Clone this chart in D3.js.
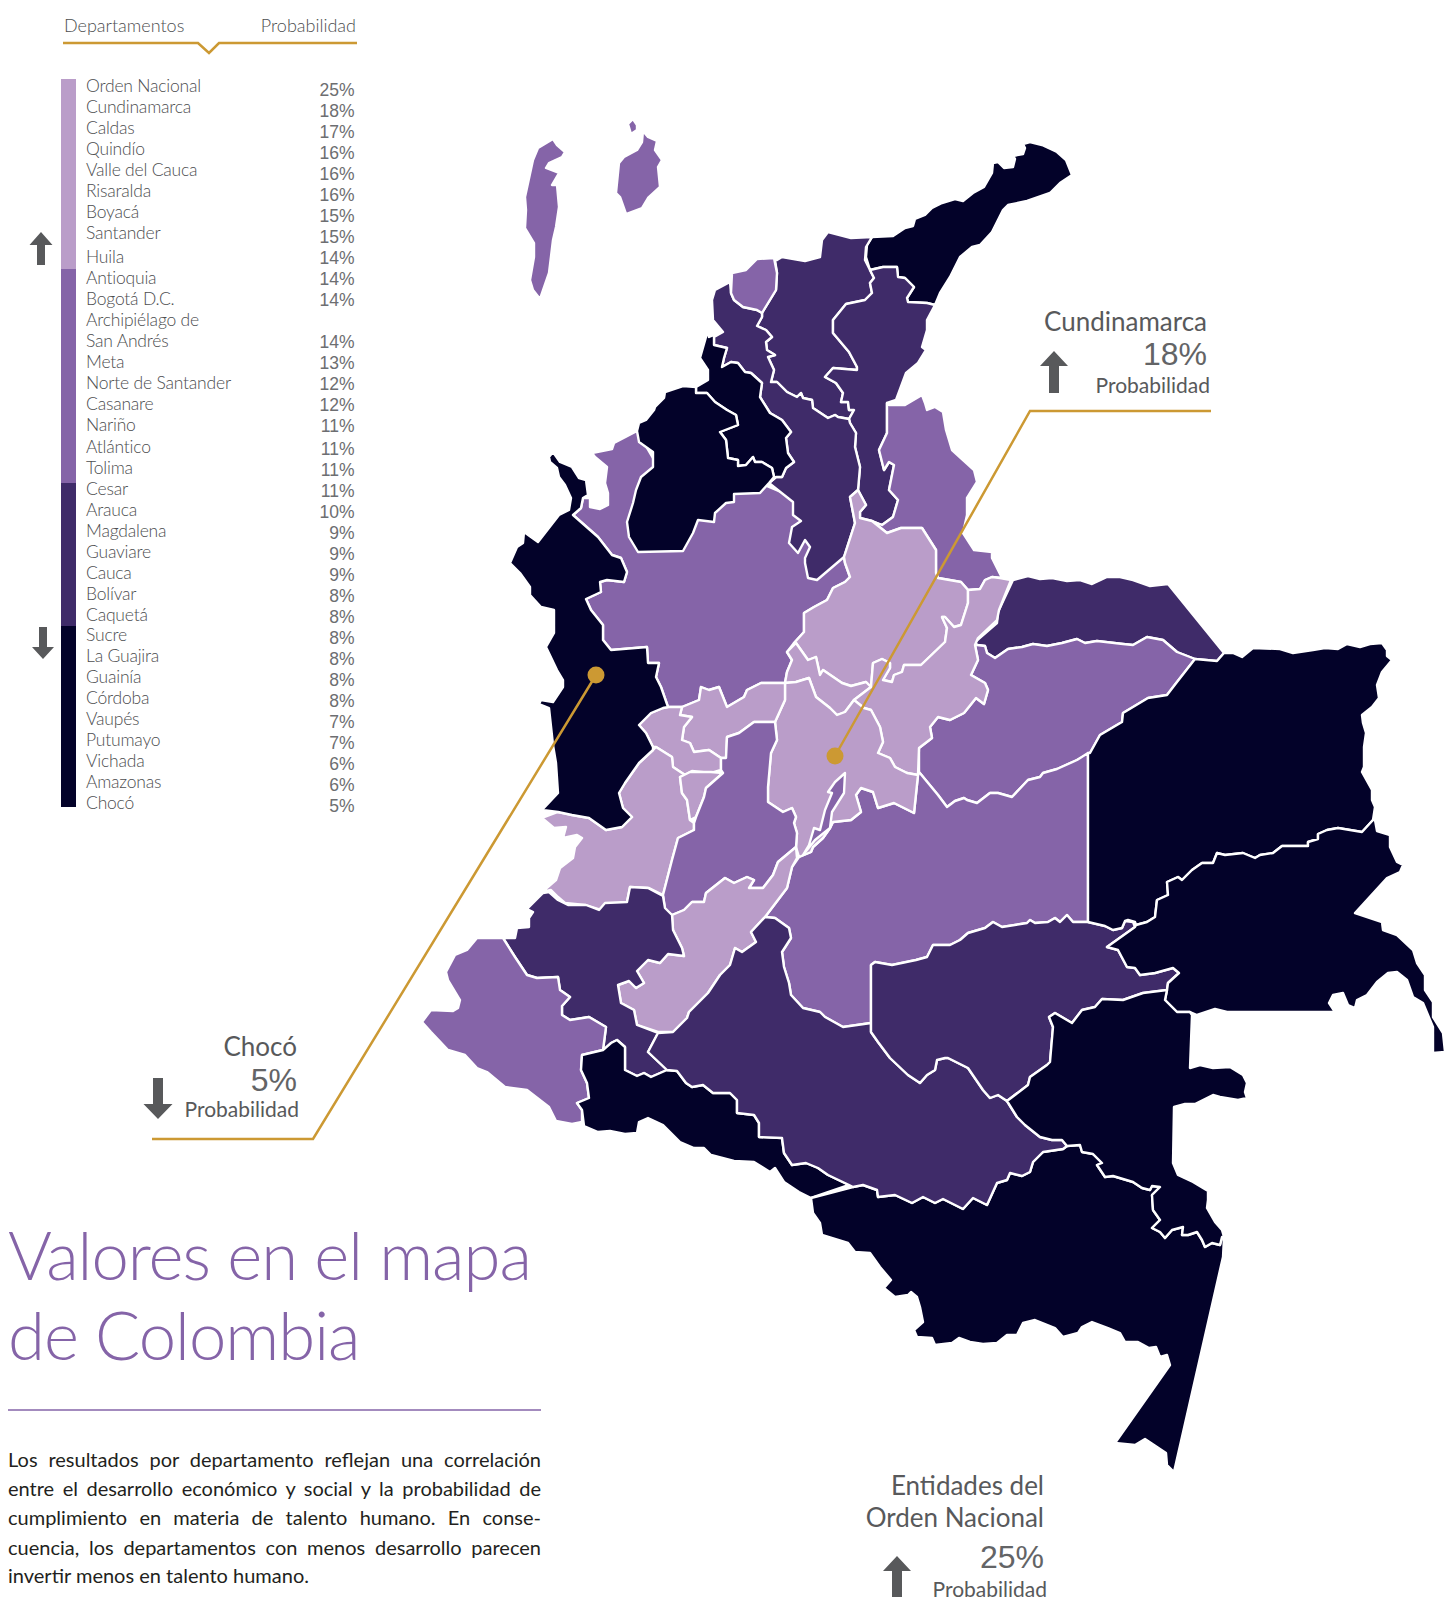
<!DOCTYPE html>
<html>
<head>
<meta charset="utf-8">
<script src="https://cdn.jsdelivr.net/npm/d3@7"></script>
<style>
  body { margin: 0; background: #fff; }
  svg { display: block; }
  text { font-family: Lato, sans-serif; font-weight: 300; fill: #4d4e50; }
  .num { font-family: "Liberation Sans", sans-serif; font-weight: 400; }
</style>
</head>
<body>
<svg width="1445" height="1602"></svg>
<script>
// Table
const departamentos = ["Orden Nacional", "Cundinamarca", "Caldas", "Quindío", "Valle del Cauca", "Risaralda", "Boyacá", "Santander", "Huila", "Antioquia", "Bogotá D.C.", "Archipiélago de", "San Andrés", "Meta", "Norte de Santander", "Casanare", "Nariño", "Atlántico", "Tolima", "Cesar", "Arauca", "Magdalena", "Guaviare", "Cauca", "Bolívar", "Caquetá", "Sucre", "La Guajira", "Guainía", "Córdoba", "Vaupés", "Putumayo", "Vichada", "Amazonas", "Chocó"];
const probabilidad = [25, 18, 17, 16, 16, 16, 15, 15, 14, 14, 14, null, 14, 13, 12, 12, 11, 11, 11, 11, 10, 9, 9, 9, 8, 8, 8, 8, 8, 8, 7, 7, 6, 6, 5];
const colores = ["#ba9dc9", "#8564a8", "#3f2b69", "#030229"];
const parrafo = [
  "Los resultados por departamento reflejan una correlación",
  "entre el desarrollo económico y social y la probabilidad de",
  "cumplimiento en materia de talento humano. En conse-",
  "cuencia, los departamentos con menos desarrollo parecen",
  "invertir menos en talento humano."
];

// Map outlines
const sanAndres = [[553,139],[557,145],[565,152],[562,157],[549,163],[546,168],[559,173],[552,185],[557,185],[559,207],[556,227],[553,240],[549,273],[540,299],[533,290],[530,280],[534,257],[534,243],[525,228],[526,210],[525,197],[533,160],[538,148]];
const providencia = [[643,131],[648,137],[657,141],[655,150],[662,160],[658,167],[660,187],[648,198],[642,208],[626,214],[620,197],[616,193],[619,163],[624,157],[637,150],[642,142]];
const santaCatalina = [[633,119],[637,125],[637,130],[631,134],[628,124]];
const guajira = [[872,237],[893,236],[905,228],[913,226],[915,219],[925,215],[932,208],[942,203],[955,199],[963,201],[973,193],[984,187],[992,173],[993,163],[998,162],[1004,168],[1013,167],[1015,159],[1013,156],[1023,154],[1025,148],[1023,144],[1030,142],[1042,145],[1057,152],[1066,160],[1072,175],[1060,183],[1050,193],[1027,201],[1008,205],[1003,210],[992,232],[980,245],[972,247],[960,257],[950,277],[940,293],[935,305],[927,303],[908,302],[907,298],[914,287],[905,278],[898,277],[897,267],[883,267],[870,270],[866,257],[867,245]];
const magdalena = [[775,260],[777,260],[782,257],[805,261],[820,257],[822,240],[828,232],[851,238],[872,237],[866,247],[865,260],[870,270],[874,278],[870,283],[872,293],[865,300],[846,304],[833,320],[833,333],[849,352],[857,367],[857,370],[833,368],[825,377],[836,383],[843,393],[841,402],[848,402],[849,410],[854,410],[849,419],[838,417],[835,415],[828,418],[813,408],[812,400],[803,398],[801,393],[797,397],[787,392],[777,382],[771,382],[774,370],[768,357],[775,355],[767,350],[766,342],[772,337],[766,330],[757,326],[762,317],[762,313],[776,290],[777,273]];
const cesar = [[870,270],[883,267],[897,267],[898,277],[905,278],[914,287],[907,298],[908,302],[927,303],[935,305],[927,320],[927,330],[922,347],[926,350],[918,363],[906,373],[896,400],[887,403],[887,433],[879,450],[884,470],[889,462],[894,465],[889,490],[898,500],[893,517],[882,525],[872,521],[860,518],[860,512],[866,505],[858,490],[860,467],[855,447],[856,433],[850,423],[849,419],[854,410],[849,410],[848,402],[841,402],[843,393],[836,383],[825,377],[833,368],[857,370],[857,367],[849,352],[833,333],[833,320],[846,304],[865,300],[872,293],[870,283],[874,278]];
const antioquia = [[637,431],[614,443],[612,449],[592,453],[595,457],[607,467],[605,483],[608,493],[608,505],[600,509],[590,507],[590,498],[583,498],[581,508],[573,515],[598,537],[612,555],[621,558],[627,572],[624,582],[607,580],[600,582],[601,592],[586,599],[591,610],[603,625],[603,640],[611,650],[647,647],[648,663],[659,663],[656,677],[661,687],[668,707],[682,707],[699,700],[701,687],[709,690],[719,687],[727,707],[744,697],[747,690],[761,683],[785,683],[787,672],[792,660],[787,652],[794,643],[804,632],[804,613],[814,607],[827,600],[833,588],[845,582],[850,577],[845,563],[844,557],[830,550],[800,500],[760,483],[700,500],[660,470]];
const bolivar = [[712,300],[715,290],[730,282],[731,293],[734,300],[743,307],[757,310],[762,313],[762,317],[757,326],[766,330],[772,337],[766,342],[767,350],[775,355],[768,357],[774,370],[771,382],[777,382],[787,392],[797,397],[801,393],[803,398],[812,400],[813,408],[828,418],[835,415],[838,417],[849,419],[850,423],[856,433],[855,447],[860,467],[858,490],[850,497],[855,523],[844,557],[817,580],[808,578],[805,563],[805,558],[810,547],[805,540],[798,553],[789,543],[792,527],[801,521],[793,515],[793,502],[769,483],[776,477],[782,477],[786,468],[794,462],[788,453],[786,438],[791,432],[782,420],[770,413],[760,397],[762,383],[751,373],[745,372],[738,363],[731,362],[722,367],[724,358],[727,348],[714,345],[714,337],[723,332],[713,320]];
const sucre = [[708,330],[709,337],[714,335],[714,345],[727,348],[724,358],[722,367],[731,362],[738,363],[745,372],[751,373],[762,383],[760,397],[770,413],[782,420],[791,432],[786,438],[788,453],[794,462],[786,468],[782,477],[776,477],[769,483],[774,477],[772,468],[762,462],[755,462],[753,457],[746,465],[738,466],[738,460],[728,458],[726,440],[720,432],[738,425],[736,415],[727,410],[715,402],[707,393],[696,393],[696,387],[708,380],[708,370],[700,358]];
const cordoba = [[696,387],[683,386],[665,392],[664,398],[655,407],[654,410],[646,420],[639,423],[637,431],[639,442],[653,452],[653,467],[641,477],[636,490],[633,503],[627,522],[629,537],[638,552],[683,551],[693,533],[698,520],[714,522],[715,513],[726,503],[734,502],[734,494],[760,493],[769,483],[774,477],[772,468],[762,462],[755,462],[753,457],[746,465],[738,466],[738,460],[728,458],[726,440],[720,432],[738,425],[736,415],[727,410],[715,402],[707,393],[696,393]];
const atlantico = [[732,273],[746,270],[757,259],[774,258],[777,273],[776,290],[762,313],[757,310],[743,307],[734,300],[731,293]];
const norteSantander = [[889,405],[905,405],[922,395],[925,403],[927,410],[935,407],[943,412],[946,430],[952,450],[974,470],[977,482],[967,498],[967,515],[963,533],[974,550],[992,552],[992,558],[1002,578],[992,577],[985,580],[980,589],[968,590],[961,582],[938,578],[936,573],[936,550],[922,528],[901,528],[887,533],[872,521],[882,525],[893,517],[898,500],[889,490],[894,465],[889,462],[884,470],[879,450],[887,433],[887,403]];
const santander = [[858,490],[866,505],[860,512],[860,518],[872,521],[887,533],[901,528],[922,528],[936,550],[936,573],[938,578],[961,582],[968,590],[968,603],[961,625],[954,627],[945,617],[942,617],[947,628],[945,642],[921,665],[904,665],[902,672],[894,675],[892,682],[883,680],[890,668],[890,663],[882,659],[873,663],[871,687],[866,682],[851,686],[842,683],[823,670],[820,675],[816,657],[808,660],[796,643],[794,643],[804,632],[804,613],[814,607],[827,600],[833,588],[845,582],[850,577],[845,563],[844,557],[855,523],[850,497]];
const boyacaNorte = [[785,683],[796,682],[809,678],[816,697],[830,708],[837,715],[845,712],[854,700],[871,687],[866,682],[851,686],[842,683],[823,670],[820,675],[816,657],[808,660],[796,643],[787,652],[792,660],[787,672]];
const boyaca = [[1011,580],[1000,578],[992,577],[985,580],[980,589],[968,590],[968,603],[961,625],[954,627],[945,617],[942,617],[947,628],[945,642],[921,665],[904,665],[902,672],[894,675],[892,682],[883,680],[890,668],[890,663],[882,659],[873,663],[871,687],[854,700],[864,708],[871,710],[880,727],[883,742],[878,753],[890,758],[895,767],[907,773],[918,775],[919,748],[932,738],[930,727],[938,717],[950,720],[964,713],[976,698],[984,704],[988,690],[985,683],[971,675],[978,660],[975,645],[978,638],[997,620],[999,610]];
const arauca = [[1013,580],[1028,576],[1040,579],[1052,578],[1067,581],[1080,580],[1092,584],[1107,577],[1120,577],[1133,580],[1150,586],[1168,584],[1224,653],[1217,661],[1195,659],[1177,652],[1163,640],[1147,637],[1133,645],[1123,644],[1097,641],[1085,643],[1077,639],[1062,643],[1047,646],[1033,644],[1022,647],[1008,649],[995,658],[987,653],[985,646],[977,645],[975,642],[997,623],[998,612]];
const casanare = [[977,645],[985,646],[987,653],[995,658],[1008,649],[1022,647],[1033,644],[1047,646],[1062,643],[1077,639],[1085,643],[1097,641],[1123,644],[1133,645],[1147,637],[1163,640],[1177,652],[1195,659],[1177,682],[1167,695],[1148,698],[1123,713],[1122,722],[1100,735],[1090,753],[1077,760],[1057,769],[1043,773],[1040,777],[1028,780],[1012,797],[998,793],[990,793],[977,803],[967,800],[964,798],[955,801],[947,807],[938,795],[919,772],[919,748],[932,738],[930,727],[938,717],[950,720],[964,713],[976,698],[984,704],[988,690],[985,683],[971,675],[978,660],[975,645]];
const meta = [[918,775],[914,813],[894,803],[878,808],[873,792],[861,788],[856,795],[861,812],[851,820],[833,822],[830,828],[823,838],[813,847],[811,852],[799,857],[792,867],[787,888],[765,917],[775,918],[789,928],[791,938],[782,952],[784,967],[789,983],[791,995],[803,1008],[820,1012],[825,1017],[843,1027],[871,1023],[871,965],[875,962],[892,965],[916,960],[927,957],[933,945],[950,945],[960,940],[968,933],[985,928],[993,922],[1002,927],[1027,923],[1030,920],[1035,923],[1048,922],[1055,918],[1060,922],[1067,915],[1073,922],[1088,922],[1088,753],[1077,760],[1057,769],[1043,773],[1040,777],[1028,780],[1012,797],[998,793],[990,793],[977,803],[967,800],[964,798],[955,801],[947,807],[938,795],[919,772]];
const cundinamarca = [[785,683],[796,682],[809,678],[816,697],[830,708],[837,715],[845,712],[854,700],[864,708],[871,710],[880,727],[883,742],[878,753],[890,758],[895,767],[907,773],[918,775],[914,813],[894,803],[878,808],[873,792],[861,788],[856,795],[861,812],[851,820],[833,822],[830,828],[823,838],[813,847],[811,852],[799,857],[796,847],[797,833],[794,823],[796,817],[792,808],[783,812],[768,802],[768,787],[771,753],[777,740],[775,722],[785,700]];
const bogota = [[845,773],[835,782],[828,792],[832,793],[825,810],[820,830],[814,828],[809,845],[803,855],[815,840],[830,828],[832,812],[844,793]];
const caldas = [[682,707],[680,715],[692,717],[684,727],[682,740],[690,743],[694,752],[709,750],[721,758],[726,758],[727,737],[739,733],[754,722],[775,722],[785,700],[785,683],[761,683],[747,690],[744,697],[727,707],[719,687],[709,690],[701,687],[699,700]];
const risaralda = [[668,707],[682,707],[680,715],[692,717],[684,727],[682,740],[690,743],[694,752],[709,750],[721,758],[721,770],[711,773],[692,771],[685,775],[673,767],[672,757],[656,747],[653,747],[646,733],[639,725],[651,713],[663,708]];
const valle = [[656,747],[672,757],[673,767],[685,775],[680,777],[682,793],[687,800],[690,820],[694,823],[694,830],[678,838],[672,860],[663,895],[649,888],[630,887],[627,902],[606,905],[601,910],[585,905],[565,903],[558,897],[551,890],[542,892],[556,880],[560,868],[573,858],[575,847],[582,838],[577,835],[563,838],[566,827],[554,828],[542,818],[558,812],[572,815],[589,818],[606,830],[622,827],[632,817],[623,808],[619,793],[625,783],[639,763],[653,750]];
const quindio = [[680,777],[690,772],[711,772],[723,773],[706,788],[704,797],[696,817],[690,820],[687,800],[682,793]];
const tolima = [[727,737],[739,733],[754,722],[775,722],[777,740],[771,753],[768,787],[768,802],[783,812],[792,808],[796,817],[794,823],[797,833],[796,847],[778,862],[773,875],[763,888],[749,888],[754,880],[747,877],[734,883],[725,878],[706,893],[704,902],[692,902],[684,910],[672,915],[665,910],[663,895],[672,860],[678,838],[694,830],[694,823],[696,817],[704,797],[706,788],[723,773],[721,770],[721,758],[726,758]];
const huila = [[796,847],[797,858],[792,867],[787,888],[765,917],[751,932],[756,942],[742,952],[735,948],[730,965],[720,975],[708,993],[689,1012],[687,1018],[673,1032],[658,1032],[637,1025],[634,1010],[621,1003],[618,985],[629,981],[636,988],[644,983],[637,971],[648,960],[660,963],[668,954],[684,956],[682,948],[673,930],[672,915],[684,910],[692,902],[704,902],[706,893],[725,878],[734,883],[747,877],[754,880],[749,888],[763,888],[773,875],[778,862]];
const cauca = [[543,893],[549,892],[558,900],[568,905],[586,905],[599,910],[605,903],[627,902],[630,887],[648,888],[663,896],[665,908],[672,915],[673,930],[682,948],[684,956],[668,954],[660,963],[648,960],[637,971],[644,983],[636,988],[629,981],[618,985],[621,1003],[634,1010],[637,1025],[658,1033],[648,1052],[667,1070],[651,1077],[644,1073],[637,1076],[625,1070],[625,1047],[617,1040],[611,1043],[610,1050],[603,1050],[606,1027],[589,1017],[570,1020],[562,1015],[562,1006],[570,997],[560,990],[558,977],[537,978],[527,975],[515,957],[503,938],[515,938],[517,928],[529,927],[529,918],[533,912],[527,909]];
const narino = [[503,938],[515,957],[527,975],[537,978],[558,977],[560,990],[570,997],[562,1006],[562,1015],[570,1020],[589,1017],[606,1027],[603,1050],[582,1055],[581,1070],[587,1083],[589,1098],[577,1103],[582,1110],[582,1122],[572,1124],[556,1121],[549,1107],[527,1090],[505,1087],[487,1072],[477,1068],[465,1055],[448,1050],[431,1032],[422,1022],[431,1010],[453,1011],[458,1008],[460,1000],[448,980],[446,972],[455,955],[467,950],[477,938],[489,938]];
const putumayo = [[582,1055],[603,1050],[611,1043],[617,1040],[625,1047],[625,1070],[637,1076],[644,1073],[651,1077],[667,1070],[677,1071],[686,1083],[692,1087],[703,1085],[713,1093],[730,1093],[737,1100],[737,1113],[754,1115],[759,1123],[759,1137],[782,1138],[784,1153],[792,1165],[806,1163],[818,1168],[828,1175],[849,1185],[811,1198],[799,1192],[784,1182],[775,1168],[770,1172],[754,1162],[734,1161],[711,1155],[704,1148],[694,1148],[680,1142],[663,1125],[648,1118],[639,1122],[637,1133],[625,1134],[610,1131],[598,1132],[584,1126],[582,1110],[577,1103],[589,1098],[587,1083],[581,1070]];
const amazonas = [[811,1198],[853,1187],[863,1185],[877,1190],[878,1197],[895,1195],[912,1203],[923,1197],[935,1203],[943,1199],[963,1209],[973,1198],[987,1205],[997,1183],[1007,1180],[1010,1173],[1022,1176],[1030,1172],[1033,1162],[1043,1152],[1063,1149],[1067,1146],[1080,1145],[1082,1152],[1093,1154],[1102,1163],[1097,1165],[1105,1177],[1113,1176],[1133,1182],[1142,1188],[1150,1190],[1152,1186],[1160,1187],[1152,1195],[1153,1210],[1160,1220],[1152,1228],[1160,1232],[1165,1238],[1172,1230],[1183,1227],[1182,1235],[1188,1235],[1197,1232],[1202,1240],[1205,1247],[1212,1243],[1220,1245],[1222,1237],[1224,1237],[1223,1257],[1174,1472],[1167,1465],[1166,1453],[1145,1439],[1135,1445],[1115,1443],[1170,1365],[1167,1355],[1160,1357],[1156,1347],[1149,1348],[1138,1342],[1125,1342],[1120,1333],[1108,1328],[1092,1322],[1082,1327],[1078,1333],[1063,1337],[1055,1328],[1035,1320],[1023,1323],[1017,1335],[1007,1335],[997,1343],[983,1344],[970,1342],[959,1338],[952,1343],[935,1345],[932,1338],[917,1337],[914,1330],[923,1322],[920,1307],[917,1297],[911,1292],[908,1295],[895,1297],[884,1288],[891,1280],[880,1267],[870,1253],[855,1252],[848,1243],[822,1235],[820,1223],[813,1213]];
const caqueta = [[765,917],[775,918],[789,928],[791,938],[782,952],[784,967],[789,983],[791,995],[803,1008],[820,1012],[825,1017],[843,1027],[871,1023],[871,1032],[878,1042],[890,1058],[908,1075],[920,1083],[927,1075],[935,1070],[937,1060],[945,1058],[948,1058],[968,1068],[983,1090],[990,1098],[998,1095],[1007,1101],[1017,1117],[1025,1125],[1040,1137],[1052,1140],[1062,1140],[1067,1146],[1063,1149],[1043,1152],[1033,1162],[1030,1172],[1022,1176],[1010,1173],[1007,1180],[997,1183],[987,1205],[973,1198],[963,1209],[943,1199],[935,1203],[923,1197],[912,1203],[895,1195],[878,1197],[877,1190],[863,1185],[853,1187],[849,1185],[828,1175],[818,1168],[806,1163],[792,1165],[784,1153],[782,1138],[759,1137],[759,1123],[754,1115],[737,1113],[737,1100],[730,1093],[713,1093],[703,1085],[692,1087],[686,1083],[677,1071],[667,1070],[648,1052],[658,1033],[673,1032],[687,1018],[689,1012],[708,993],[720,975],[730,965],[735,948],[742,952],[756,942],[751,932]];
const guaviare = [[871,965],[875,962],[892,965],[916,960],[927,957],[933,945],[950,945],[960,940],[968,933],[985,928],[993,922],[1002,927],[1027,923],[1030,920],[1035,923],[1048,922],[1055,918],[1060,922],[1067,915],[1073,922],[1088,922],[1105,926],[1113,930],[1122,928],[1125,921],[1133,922],[1135,927],[1107,947],[1118,950],[1127,967],[1135,968],[1140,975],[1155,973],[1173,968],[1179,973],[1168,983],[1167,990],[1143,993],[1123,1000],[1102,999],[1095,1007],[1082,1010],[1072,1023],[1055,1013],[1049,1017],[1053,1027],[1050,1062],[1047,1065],[1030,1077],[1028,1085],[1007,1101],[998,1095],[990,1098],[983,1090],[968,1068],[948,1058],[945,1058],[937,1060],[935,1070],[927,1075],[920,1083],[908,1075],[890,1058],[878,1042],[871,1032]];
const vichada = [[1195,659],[1217,661],[1224,653],[1233,653],[1242,657],[1253,648],[1280,649],[1293,653],[1313,650],[1325,648],[1338,649],[1347,644],[1360,647],[1370,644],[1382,643],[1387,650],[1387,656],[1392,660],[1382,672],[1377,685],[1379,698],[1372,707],[1362,715],[1363,723],[1366,733],[1364,747],[1364,767],[1362,772],[1372,790],[1372,800],[1375,807],[1373,820],[1362,832],[1338,828],[1327,830],[1318,834],[1318,839],[1308,842],[1308,846],[1282,846],[1273,853],[1260,855],[1255,858],[1243,853],[1225,855],[1217,853],[1213,863],[1202,863],[1192,870],[1182,880],[1178,877],[1167,882],[1168,895],[1157,900],[1155,917],[1147,922],[1136,925],[1135,922],[1128,920],[1125,921],[1122,928],[1113,930],[1105,926],[1088,922],[1088,753],[1090,753],[1100,735],[1122,722],[1123,713],[1148,698],[1167,695],[1177,682]];
const guainia = [[1375,820],[1377,831],[1390,835],[1390,847],[1397,862],[1403,865],[1400,872],[1387,878],[1355,913],[1382,922],[1383,930],[1397,935],[1413,950],[1417,963],[1425,975],[1425,990],[1433,1002],[1433,1017],[1443,1033],[1445,1052],[1433,1053],[1433,1027],[1423,1003],[1413,997],[1407,980],[1397,972],[1388,973],[1377,982],[1367,995],[1357,1000],[1355,1008],[1348,1005],[1343,993],[1333,995],[1329,1003],[1335,1012],[1227,1012],[1215,1009],[1197,1015],[1190,1012],[1177,1012],[1165,1000],[1167,990],[1168,983],[1179,973],[1173,968],[1155,973],[1140,975],[1135,968],[1127,967],[1118,950],[1107,947],[1135,927],[1136,925],[1147,922],[1155,917],[1157,900],[1168,895],[1167,882],[1178,877],[1182,880],[1192,870],[1202,863],[1213,863],[1217,853],[1225,855],[1243,853],[1255,858],[1260,855],[1273,853],[1282,846],[1308,846],[1308,842],[1318,839],[1318,834],[1327,830],[1338,828],[1362,832],[1373,820]];
const vaupes = [[1053,1027],[1049,1017],[1055,1013],[1072,1023],[1082,1010],[1095,1007],[1102,999],[1123,1000],[1143,993],[1167,990],[1165,1000],[1177,1012],[1190,1012],[1192,1015],[1190,1068],[1200,1065],[1213,1068],[1230,1067],[1243,1075],[1247,1083],[1245,1092],[1247,1098],[1238,1100],[1220,1097],[1213,1095],[1195,1104],[1185,1104],[1174,1107],[1173,1163],[1178,1175],[1193,1182],[1208,1191],[1208,1200],[1207,1208],[1215,1222],[1222,1230],[1224,1237],[1222,1237],[1220,1245],[1212,1243],[1205,1247],[1202,1240],[1197,1232],[1188,1235],[1182,1235],[1183,1227],[1172,1230],[1165,1238],[1160,1232],[1152,1228],[1160,1220],[1153,1210],[1152,1195],[1160,1187],[1152,1186],[1150,1190],[1142,1188],[1133,1182],[1113,1176],[1105,1177],[1097,1165],[1102,1163],[1093,1154],[1082,1152],[1080,1145],[1067,1146],[1062,1140],[1052,1140],[1040,1137],[1025,1125],[1017,1117],[1007,1101],[1028,1085],[1030,1077],[1047,1065],[1050,1062]];
const choco = [[553,452],[560,462],[572,467],[579,478],[586,480],[588,495],[583,498],[581,508],[573,515],[598,537],[612,555],[621,558],[627,572],[624,582],[607,580],[600,582],[601,592],[586,599],[591,610],[603,625],[603,640],[611,650],[647,647],[648,663],[659,663],[656,677],[661,687],[668,707],[663,708],[651,713],[639,725],[646,733],[653,747],[653,750],[639,763],[625,783],[619,793],[623,808],[632,817],[622,827],[606,830],[589,818],[572,815],[558,812],[542,810],[558,793],[556,763],[553,745],[549,708],[539,704],[541,700],[553,702],[563,687],[563,680],[557,670],[546,647],[554,633],[554,610],[541,607],[530,595],[530,587],[520,573],[510,563],[517,547],[523,543],[524,532],[538,542],[559,515],[569,510],[571,498],[565,485],[559,477],[557,468],[550,462],[549,457]];

// Drawing order matters: later shapes sit on top of earlier ones
const mapa = [
  [sanAndres, 1], [providencia, 1], [santaCatalina, 1], [antioquia, 1], [guajira, 3], [magdalena, 2], [cesar, 2],
  [bolivar, 2], [sucre, 3], [cordoba, 3], [atlantico, 1], [norteSantander, 1], [santander, 0], [boyacaNorte, 0],
  [arauca, 2], [casanare, 1], [meta, 1], [boyaca, 0], [cundinamarca, 0], [bogota, 1], [caldas, 0], [risaralda, 0],
  [valle, 0], [quindio, 0], [tolima, 1], [huila, 0], [cauca, 2], [narino, 1], [putumayo, 3], [amazonas, 3],
  [caqueta, 2], [guaviare, 2], [vichada, 3], [guainia, 3], [vaupes, 3], [choco, 3]
];

const svg = d3.select("svg");
const gold = "#cc9933";
const gray = "#58595b";

const path = d3.geoPath(d3.geoIdentity());
svg.append("g")
  .selectAll("path")
  .data(mapa)
  .enter()
  .append("path")
  .attr("d", (d) => path({ type: "Polygon", coordinates: [[...d[0], d[0][0]]] }))
  .attr("fill", (d) => colores[d[1]])
  .attr("stroke", "#fff")
  .attr("stroke-width", 2.4)
  .attr("stroke-linejoin", "round");

// Header
const line = d3.line();
svg.append("text").attr("x", 64).attr("y", 32).attr("font-size", 18).text("Departamentos");
svg.append("text").attr("x", 356).attr("y", 32).attr("font-size", 18).attr("text-anchor", "end").text("Probabilidad");
svg.append("path")
  .attr("d", line([[63, 43], [198, 43], [209, 53], [219, 43], [357, 43]]))
  .attr("fill", "none").attr("stroke", gold).attr("stroke-width", 2.5);

// Table rows
const labelY = (i) => 92 + 21 * i + (i >= 26 ? 3 : i >= 17 ? 4 : i >= 8 ? 3 : 0);
const valueY = (i) => 95.5 + 21 * i + (i >= 17 ? 2 : 0);

const barY = [79, 269, 483, 626, 807];
svg.append("g").selectAll("rect")
  .data(colores)
  .enter()
  .append("rect")
  .attr("x", 61).attr("width", 15)
  .attr("y", (d, i) => barY[i])
  .attr("height", (d, i) => barY[i + 1] - barY[i])
  .attr("fill", (d) => d);

svg.append("g").selectAll("text")
  .data(departamentos)
  .enter()
  .append("text")
  .attr("x", 86)
  .attr("y", (d, i) => labelY(i))
  .attr("font-size", 17.5)
  .attr("letter-spacing", -0.2)
  .text((d) => d);

svg.append("g").selectAll("text")
  .data(probabilidad)
  .enter()
  .append("text")
  .attr("class", "num")
  .attr("x", 354.5)
  .attr("y", (d, i) => valueY(i))
  .attr("font-size", 17.5)
  .attr("text-anchor", "end")
  .style("fill", "#6d6e71")
  .text((d) => (d === null ? "" : d + "%"));

// Arrows
function arrow(tipX, tipY, dir, headW, headH, shaftW, len) {
  svg.append("path")
    .attr("d", line([
      [tipX, tipY],
      [tipX + headW / 2, tipY + dir * headH],
      [tipX + shaftW / 2, tipY + dir * headH],
      [tipX + shaftW / 2, tipY + dir * len],
      [tipX - shaftW / 2, tipY + dir * len],
      [tipX - shaftW / 2, tipY + dir * headH],
      [tipX - headW / 2, tipY + dir * headH]
    ]) + "Z")
    .attr("fill", gray);
}
arrow(41, 232, 1, 23, 13, 8, 33);
arrow(43, 659, -1, 22, 12, 8, 32);
arrow(1054, 351, 1, 28, 15, 10, 42);
arrow(158, 1119, -1, 29, 15, 10, 41);
arrow(897, 1556, 1, 28, 15, 10, 41);

// Callouts
function callout(rightX, lines) {
  lines.forEach((l) => {
    svg.append("text")
      .attr("class", l.num ? "num" : null)
      .attr("x", rightX + (l.dx || 0))
      .attr("y", l.y)
      .attr("font-size", l.size)
      .attr("text-anchor", "end")
      .style("fill", l.num ? "#636466" : gray)
      .style("font-weight", 400)
      .text(l.t);
  });
}
callout(1207, [
  { t: "Cundinamarca", y: 331, size: 26 },
  { t: "18%", y: 365, size: 32, num: true },
  { t: "Probabilidad", y: 393, size: 21, dx: 3 }
]);
callout(297, [
  { t: "Chocó", y: 1056, size: 26 },
  { t: "5%", y: 1091, size: 32, num: true },
  { t: "Probabilidad", y: 1117, size: 21, dx: 2 }
]);
callout(1044, [
  { t: "Entidades del", y: 1495, size: 26 },
  { t: "Orden Nacional", y: 1527, size: 26 },
  { t: "25%", y: 1568, size: 32, num: true },
  { t: "Probabilidad", y: 1597, size: 21, dx: 3 }
]);

// Leader lines
[[[1211, 411], [1030, 411], [835, 756]], [[152, 1139], [313, 1139], [596, 675]]].forEach((pts) => {
  svg.append("path").attr("d", line(pts)).attr("fill", "none").attr("stroke", gold).attr("stroke-width", 2.5);
  svg.append("circle").attr("cx", pts[2][0]).attr("cy", pts[2][1]).attr("r", 8.5).attr("fill", gold);
});

// Title and paragraph
svg.append("text").attr("x", 8).attr("y", 1280).attr("font-size", 67).attr("letter-spacing", -1).style("fill", "#8564a8").text("Valores en el mapa");
svg.append("text").attr("x", 8).attr("y", 1360).attr("font-size", 67).attr("letter-spacing", -1).style("fill", "#8564a8").text("de Colombia");
svg.append("line").attr("x1", 8).attr("x2", 541).attr("y1", 1410).attr("y2", 1410).attr("stroke", "#8564a8").attr("stroke-width", 1.5);

const paraY = [1467, 1496, 1525, 1555, 1583];
parrafo.forEach((t, i) => {
  const el = svg.append("text")
    .attr("x", 8).attr("y", paraY[i])
    .attr("font-size", 20)
    .style("fill", "#231f20")
    .style("font-weight", 400)
    .text(t);
  // justify every line but the last
  if (i < parrafo.length - 1) {
    const gaps = t.split(" ").length - 1;
    el.attr("word-spacing", (533 - el.node().getComputedTextLength()) / gaps);
  }
});
</script>
</body>
</html>
